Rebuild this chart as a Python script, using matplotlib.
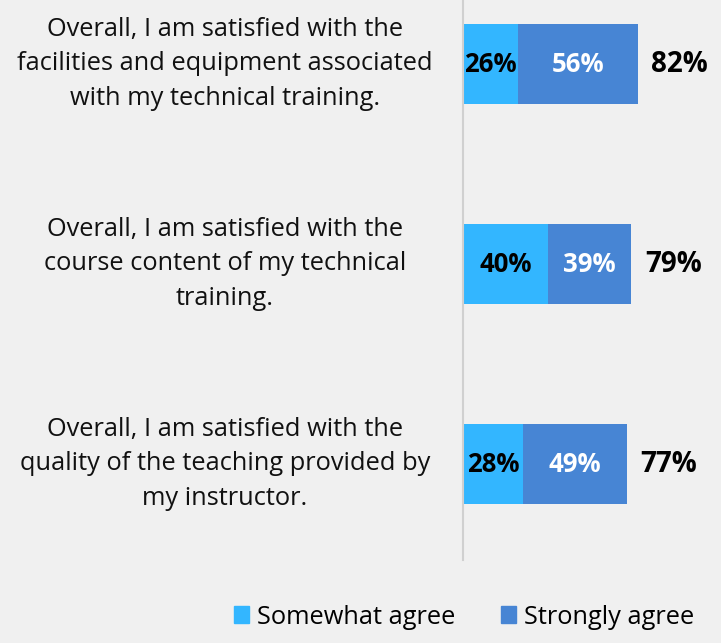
import matplotlib.pyplot as plt
from matplotlib.patches import Patch
import matplotlib.transforms as mtransforms

questions = [
    "Overall, I am satisfied with the\nfacilities and equipment associated\nwith my technical training.",
    "Overall, I am satisfied with the\ncourse content of my technical\ntraining.",
    "Overall, I am satisfied with the\nquality of the teaching provided by\nmy instructor.",
]
somewhat = [26, 40, 28]
strongly = [56, 39, 49]
totals = [82, 79, 77]
series_names = ["Somewhat agree", "Strongly agree"]

bg = "#f0f0f0"
c_light = "#33b6ff"
c_dark = "#4785d4"

plt.rcParams['font.family'] = ['Open Sans', 'DejaVu Sans']

W, H = 721, 643
fig = plt.figure(figsize=(W / 100, H / 100), dpi=100, facecolor=bg)
ax = fig.add_axes([463 / W, 1 - 560 / H, 1 - 463 / W, 560 / H])
ax.set_facecolor(bg)

ypos = list(range(len(questions)))
ax.barh(ypos, somewhat, height=0.4, color=c_light)
ax.barh(ypos, strongly, left=somewhat, height=0.4, color=c_dark)

for i in ypos:
    ax.text(somewhat[i] / 2, i, f"{somewhat[i]}%", ha='center', va='center',
            fontsize=18.5, fontweight='bold', color='black')
    ax.text(somewhat[i] + strongly[i] / 2, i, f"{strongly[i]}%", ha='center', va='center',
            fontsize=18.5, fontweight='bold', color='white')
    ax.text(totals[i] + 19.7, i, f"{totals[i]}%", ha='center', va='center',
            fontsize=20, fontweight='bold', color='black')

# question labels, centred left of the axis
trans = mtransforms.blended_transform_factory(fig.transFigure, ax.transData)
for i, q in enumerate(questions):
    ax.text(225 / W, i, q, transform=trans, ha='center', va='center',
            fontsize=18.3, linespacing=1.5, color='#111111')

ax.set_xlim(0, 258 / 2.13)
ax.set_ylim(2.48, -0.32)
ax.set_xticks([])
ax.set_yticks([])
for s in ['top', 'right', 'bottom']:
    ax.spines[s].set_visible(False)
ax.spines['left'].set_color('#d0d0d0')
ax.spines['left'].set_linewidth(1.5)

handles = [Patch(color=c_light), Patch(color=c_dark)]
fig.legend(handles, series_names, loc='center', bbox_to_anchor=(464 / W, 1 - 617 / H),
           ncol=2, frameon=False, fontsize=18.3, handlelength=0.6, handleheight=0.6,
           handletextpad=0.3, columnspacing=1.8)

fig.savefig("out.png", dpi=100, facecolor=bg)
